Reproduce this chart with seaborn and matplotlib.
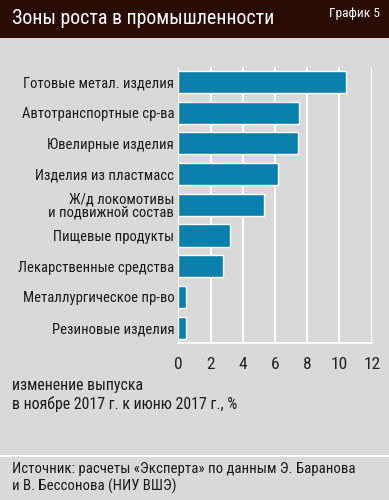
import matplotlib
matplotlib.use("Agg")
import matplotlib.pyplot as plt
import seaborn as sns
import pandas as pd
from matplotlib import font_manager

categories = [
    "Готовые метал. изделия",
    "Автотранспортные ср-ва",
    "Ювелирные изделия",
    "Изделия из пластмасс",
    "Ж/д локомотивы\nи подвижной состав",
    "Пищевые продукты",
    "Лекарственные средства",
    "Металлургическое пр-во",
    "Резиновые изделия",
]
values = [10.4, 7.5, 7.4, 6.2, 5.3, 3.2, 2.8, 0.5, 0.5]
xticks = [0, 2, 4, 6, 8, 10, 12]

title = "Зоны роста в промышленности"
chart_no = "График 5"
axis_note = "изменение выпуска\nв ноябре 2017 г. к июню 2017 г., %"
source = "Источник: расчеты «Эксперта» по данным Э. Баранова\nи В. Бессонова (НИУ ВШЭ)"

sns.set_theme(style="white")
names = {f.name for f in font_manager.fontManager.ttflist}
fam = "Roboto"
for cand in ["Roboto Condensed", "PT Sans Narrow", "Fira Sans Condensed", "Open Sans Condensed", "Archivo Narrow"]:
    if cand in names:
        fam = cand
        break
plt.rcParams["font.family"] = [fam, "DejaVu Sans"]

BG = "#d9d9d9"
BAR = "#0a80ad"
HEAD = "#2a0c07"
TXT = "#1a1a1a"

df = pd.DataFrame({"cat": categories, "val": values})

fig = plt.figure(figsize=(3.89, 5.0), dpi=100)
fig.patch.set_facecolor(BG)

# header band
fig.add_artist(plt.Rectangle((0, 1 - 38 / 500), 1, 38 / 500, transform=fig.transFigure,
                             facecolor=HEAD, edgecolor="none", zorder=0))
fig.text(12 / 389, 1 - 19 / 500, title, color="white", fontsize=14.3, va="center", ha="left")
fig.text(380 / 389, 1 - 14 / 500, chart_no, color="white", fontsize=9.6, va="center", ha="right")

# separator line above source
fig.add_artist(plt.Line2D([0, 1], [1 - 456 / 500, 1 - 456 / 500], transform=fig.transFigure,
                          color="white", lw=1.5))

ax_left = 178.3 / 389
ax_right = 371.7 / 389
ax_top = 1 - 66.6 / 500
ax_bot = 1 - 343 / 500
ax = fig.add_axes([ax_left, ax_bot, ax_right - ax_left, ax_top - ax_bot])
ax.set_facecolor(BG)

sns.barplot(data=df, y="cat", x="val", color=BAR, width=0.72, saturation=1, ax=ax, zorder=3)

ax.set_xlim(0, 12)
ax.set_ylim(len(categories) - 0.5, -0.5)
ax.set_xticks(xticks)
ax.set_xticklabels([str(t) for t in xticks], fontsize=12.5, color="#222222")
ax.tick_params(axis="x", length=0, pad=10)
ax.tick_params(axis="y", length=0, pad=3)
ax.set_yticklabels(categories, fontsize=10.5, color=TXT, linespacing=0.9)
ax.set_xlabel("")
ax.set_ylabel("")
ax.grid(axis="x", color="white", lw=1.4, zorder=1)
ax.set_axisbelow(True)
for s in ["top", "right", "left"]:
    ax.spines[s].set_visible(False)
ax.spines["bottom"].set_color("white")
ax.spines["bottom"].set_linewidth(1.4)

fig.text(12 / 389, 1 - 395 / 500, axis_note, fontsize=11.4, color=TXT, va="center", ha="left",
         linespacing=1.2)
fig.text(12 / 389, 1 - 478 / 500, source, fontsize=10.7, color=TXT, va="center", ha="left",
         linespacing=1.25)

fig.savefig("out.png", dpi=100, facecolor=BG)
